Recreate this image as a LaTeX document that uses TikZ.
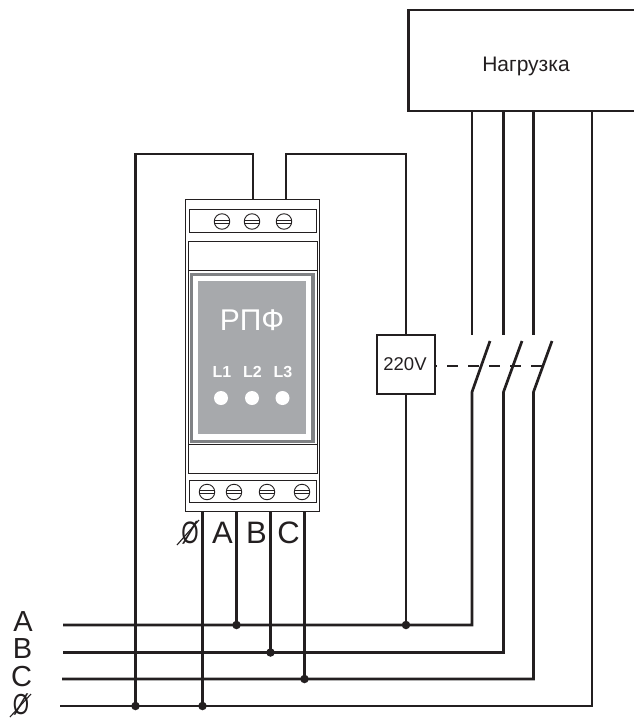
\documentclass[tikz,border=0pt]{standalone}
\usepackage{fontspec}
\setmainfont{Liberation Sans}
\definecolor{ink}{HTML}{231F20}
\definecolor{panel}{HTML}{A7A9AC}
\definecolor{framegrey}{HTML}{808285}
\tikzset{
  wire/.style={draw=ink,line width=2.7pt},
  thin box/.style={draw=ink,line width=1pt,fill=white,anchor=north west,inner sep=0pt},
  heavy box/.style={draw=ink,line width=2pt,fill=white,anchor=north west,inner sep=0pt},
  junction/.style={circle,fill=ink,inner sep=0pt,minimum size=8.5pt},
  screwhead/.style={circle,draw=ink,line width=0.9pt,minimum size=15.5pt,inner sep=0pt,fill=white,
    path picture={\draw[ink,line width=0.8pt]
      ([yshift=1.5pt]path picture bounding box.west) -- ([yshift=1.5pt]path picture bounding box.east)
      ([yshift=-1.5pt]path picture bounding box.west) -- ([yshift=-1.5pt]path picture bounding box.east);}},
  lamp/.style={circle,fill=white,minimum size=14pt,inner sep=0pt},
  lbl/.style={text=ink,inner sep=0pt},
  biglbl/.style={lbl,font=\fontsize{31}{31}\selectfont},
  sidelbl/.style={lbl,font=\fontsize{29}{29}\selectfont},
  paneltext/.style={text=white,inner sep=0pt},
  ledtext/.style={paneltext,font=\bfseries\fontsize{16}{16}\selectfont}
}
\newcommand{\slimnull}{\scalebox{0.72}[1]{Ø}}
\begin{document}
\begin{tikzpicture}[x=1pt,y=-1pt]
\useasboundingbox (0,0) rectangle (633,718);
% device
\node[thin box,minimum width=134pt,minimum height=312pt] (dev) at (185,199) {};
\node[thin box,minimum width=127pt,minimum height=23pt] (topterm) at (189,209) {};
\node[thin box,minimum width=129pt,minimum height=29pt] (upper) at (187.5,241) {};
\node[thin box,minimum width=129pt,minimum height=29pt] (lower) at (187.5,444) {};
\node[thin box,minimum width=127pt,minimum height=22pt] (botterm) at (189,480) {};
\node[thin box,minimum width=129pt,minimum height=174pt] (frame) at (187.5,270) {};
\fill[framegrey] (190,273) rectangle (314.5,443);
\fill[white] (193,276) rectangle (311,439.5);
\fill[panel] (198,281) rectangle (305.5,433.5);
\node[paneltext,font=\fontsize{30}{30}\selectfont] (rpf) at (252,320) {РПФ};
\node[ledtext] (l1) at (222,372) {L1};
\node[ledtext] (l2) at (252.5,372) {L2};
\node[ledtext] (l3) at (283,372) {L3};
\node[lamp] (d1) at (221,398) {};
\node[lamp] (d2) at (252,398) {};
\node[lamp] (d3) at (282.5,398) {};
\node[screwhead] (t1) at (222,221.5) {};
\node[screwhead] (t2) at (252,221.5) {};
\node[screwhead] (t3) at (284,221.5) {};
\node[screwhead] (b1) at (207,492) {};
\node[screwhead] (b2) at (234,492) {};
\node[screwhead] (b3) at (267,492) {};
\node[screwhead] (b4) at (302,492) {};
% load (runs off the right edge) and relay
\draw[ink,line width=2.2pt] (634,10) -- (408.5,10) -- (408.5,111) -- (634,111);
\node[lbl,font=\fontsize{21}{21}\selectfont] (loadtext) at (526,66) {Нагрузка};
\node[heavy box,minimum width=58pt,minimum height=59pt] (relay) at (376,334) {};
\node[lbl,font=\fontsize{18.5}{19}\selectfont] at (405,364) {220V};
% coordinates
\coordinate (neutral1) at (135.5,706);
\coordinate (neutral2) at (202.5,706);
\coordinate (ja) at (236.5,625);
\coordinate (jb) at (270.5,652.5);
\coordinate (jc) at (304.5,679);
\coordinate (jr) at (406,625);
% buses
\coordinate (busA) at (63,625);\coordinate (busB) at (63,652.5);\coordinate (busC) at (62,679);\coordinate (busN) at (60,706);
\draw[wire] (busA) -- (472,625) -- (472,392) -- (490,341);
\draw[wire] (busB) -- (503.5,652.5) -- (503.5,392) -- (522,341);
\draw[wire] (busC) -- (533.5,679) -- (533.5,392) -- (552,341);
\draw[wire] (busN) -- (592,706) -- (592,111);
\draw[wire] (472,111) -- (472,335);
\draw[wire] (503.5,111) -- (503.5,335);
\draw[wire] (533.5,111) -- (533.5,335);
% device wires
\draw[wire] (253,199) -- (253,154) -- (135.5,154) -- (neutral1);
\draw[wire] (286,199) -- (286,154) -- (406,154) -- (406,334);
\draw[wire] (406,393) -- (jr);
\draw[wire] (202.5,511) -- (neutral2);
\draw[wire] (236.5,511) -- (ja);
\draw[wire] (270.5,511) -- (jb);
\draw[wire] (304.5,511) -- (jc);
\foreach \p in {neutral1,neutral2,ja,jb,jc,jr} \node[junction] at (\p) {};
% mechanical link
\draw[ink,line width=1.8pt,dash pattern=on 11pt off 10pt,dash phase=8pt] (434,366) -- (542,366);
% labels
\node[sidelbl] (lA) at (23,621.5) {A};
\node[sidelbl] (lB) at (22.5,649) {B};
\node[sidelbl] (lC) at (21.5,677) {C};
\node[sidelbl] (lN) at (21,704) {\slimnull};
\draw[ink,line width=1.1pt] (10,717) -- (31,694);
\node[biglbl] (dA) at (222.5,533) {A};
\node[biglbl] (dB) at (256.5,533) {B};
\node[biglbl] (dC) at (288.5,533) {C};
\node[biglbl] (dN) at (190,533) {\slimnull};
\draw[ink,line width=1.1pt] (177,545) -- (199,520);
\end{tikzpicture}
\end{document}
